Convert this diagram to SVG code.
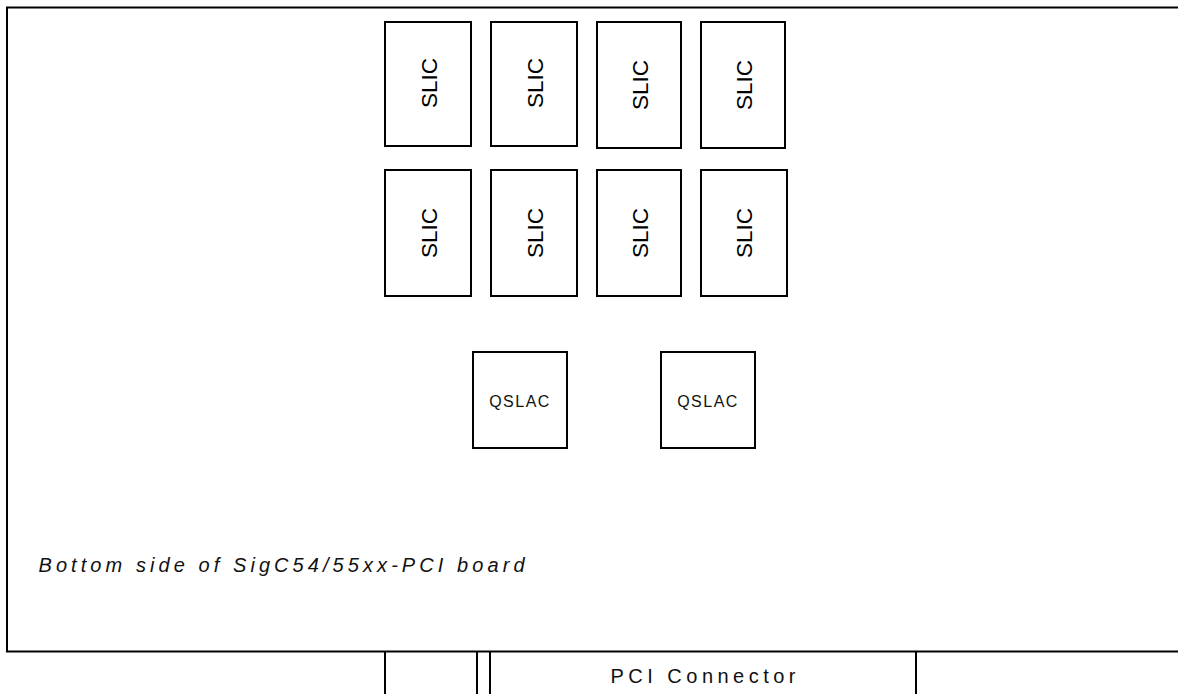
<svg xmlns="http://www.w3.org/2000/svg" width="1178" height="694" viewBox="0 0 1178 694">
<style>
.b{fill:#fff;stroke:#000;stroke-width:2}
.l{stroke:#000;stroke-width:2;fill:none}
.s{font-family:"Liberation Sans",Arial,sans-serif;font-size:22.5px;fill:#000}
.q{font-family:"Liberation Sans",Arial,sans-serif;font-size:16px;letter-spacing:1.5px;fill:#111}
.t{font-family:"Liberation Sans",Arial,sans-serif;font-size:20px;font-style:italic;fill:#111}
.p{font-family:"Liberation Sans",Arial,sans-serif;font-size:20px;fill:#111}
</style>
<rect width="1178" height="694" fill="#fff"/>
<g id="board">
<path class="l" d="M1178 7.5H7V651.5H1178"/>
<text class="t" x="38.5" y="571.7" textLength="486" lengthAdjust="spacing">Bottom side of SigC54/55xx-PCI board</text>
</g>
<g id="connector">
<path class="l" d="M385 651.5V694M477 651.5V694M490 651.5V694M916 651.5V694"/>
<text class="p" x="610.5" y="682.5" textLength="185" lengthAdjust="spacing">PCI Connector</text>
</g>
<g id="slic1"><rect class="b" x="385" y="22" width="86" height="124"/><text class="s" transform="translate(436.7,83) rotate(-90)" text-anchor="middle">SLIC</text></g>
<g id="slic2"><rect class="b" x="491" y="22" width="86" height="124"/><text class="s" transform="translate(542.5,83) rotate(-90)" text-anchor="middle">SLIC</text></g>
<g id="slic3"><rect class="b" x="597" y="22" width="84" height="126"/><text class="s" transform="translate(647.5,85) rotate(-90)" text-anchor="middle">SLIC</text></g>
<g id="slic4"><rect class="b" x="701" y="22" width="84" height="126"/><text class="s" transform="translate(751.5,85) rotate(-90)" text-anchor="middle">SLIC</text></g>
<g id="slic5"><rect class="b" x="385" y="170" width="86" height="126"/><text class="s" transform="translate(436.7,233) rotate(-90)" text-anchor="middle">SLIC</text></g>
<g id="slic6"><rect class="b" x="491" y="170" width="86" height="126"/><text class="s" transform="translate(542.5,233) rotate(-90)" text-anchor="middle">SLIC</text></g>
<g id="slic7"><rect class="b" x="597" y="170" width="84" height="126"/><text class="s" transform="translate(647.5,233) rotate(-90)" text-anchor="middle">SLIC</text></g>
<g id="slic8"><rect class="b" x="701" y="170" width="86" height="126"/><text class="s" transform="translate(752,233) rotate(-90)" text-anchor="middle">SLIC</text></g>
<g id="qslac1"><rect class="b" x="473" y="352" width="94" height="96"/><text class="q" x="520" y="406.5" text-anchor="middle">QSLAC</text></g>
<g id="qslac2"><rect class="b" x="661" y="352" width="94" height="96"/><text class="q" x="708" y="406.5" text-anchor="middle">QSLAC</text></g>
</svg>
